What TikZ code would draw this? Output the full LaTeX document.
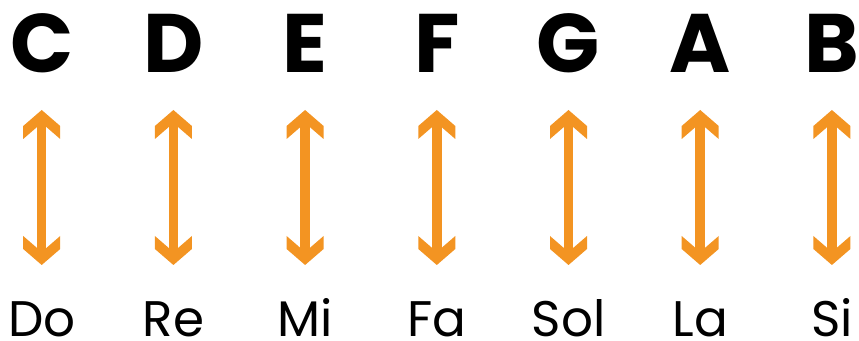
\documentclass[tikz,border=0pt]{standalone}
\usepackage{fontspec}
\setmainfont{Poppins}
\usepackage{tikz}
\usepackage{xcolor}
\definecolor{note-orange}{RGB}{243,148,34}

% thick chevron head
\pgfdeclarearrow{
  name = Chevron,
  setup code = {
    \pgfarrowssettipend{0pt}
    \pgfarrowssetlineend{-10pt}
    \pgfarrowssetbackend{-29pt}
    \pgfarrowsupperhullpoint{0pt}{0pt}
    \pgfarrowsupperhullpoint{-16pt}{18.5pt}
    \pgfarrowsupperhullpoint{-29pt}{18.5pt}
  },
  drawing code = {
    \pgfpathmoveto{\pgfqpoint{0pt}{0pt}}
    \pgfpathlineto{\pgfqpoint{-16pt}{18.5pt}}
    \pgfpathlineto{\pgfqpoint{-29pt}{18.5pt}}
    \pgfpathlineto{\pgfqpoint{-13pt}{0pt}}
    \pgfpathlineto{\pgfqpoint{-29pt}{-18.5pt}}
    \pgfpathlineto{\pgfqpoint{-16pt}{-18.5pt}}
    \pgfpathclose
    \pgfusepathqfill
  }
}

\tikzset{
    note-letter/.style = {anchor=base, inner sep=0pt, font=\fontsize{83}{83}\selectfont\bfseries},
    note-name/.style = {anchor=base, inner sep=0pt, font=\fontsize{50}{50}\selectfont},
    note-arrow/.style = {draw=note-orange, line width=9.5pt, Chevron-Chevron},
}

\begin{document}
\begin{tikzpicture}[x=1pt, y=1pt]
\useasboundingbox (0,0) rectangle (859,340);
\node[note-letter] (C) at (41.7,267) {C};
\node[note-letter] (D) at (173.4,267) {D};
\node[note-letter] (E) at (305.1,267) {E};
\node[note-letter] (F) at (436.8,267) {F};
\node[note-letter] (G) at (568.5,267) {G};
\node[note-letter] (A) at (700.2,267) {A};
\node[note-letter] (B) at (831.9,267) {B};

\node[note-name] (Do) at (41.7,4) {Do};
\node[note-name] (Re) at (173.4,4) {Re};
\node[note-name] (Mi) at (305.1,4) {Mi};
\node[note-name] (Fa) at (436.8,4) {Fa};
\node[note-name] (Sol) at (568.5,4) {Sol};
\node[note-name] (La) at (700.2,4) {La};
\node[note-name] (Si) at (831.9,4) {Si};

\draw[note-arrow] ([yshift=-37pt]C.base) -- ([yshift=71pt]Do.base);
\draw[note-arrow] ([yshift=-37pt]D.base) -- ([yshift=71pt]Re.base);
\draw[note-arrow] ([yshift=-37pt]E.base) -- ([yshift=71pt]Mi.base);
\draw[note-arrow] ([yshift=-37pt]F.base) -- ([yshift=71pt]Fa.base);
\draw[note-arrow] ([yshift=-37pt]G.base) -- ([yshift=71pt]Sol.base);
\draw[note-arrow] ([yshift=-37pt]A.base) -- ([yshift=71pt]La.base);
\draw[note-arrow] ([yshift=-37pt]B.base) -- ([yshift=71pt]Si.base);
\end{tikzpicture}
\end{document}
